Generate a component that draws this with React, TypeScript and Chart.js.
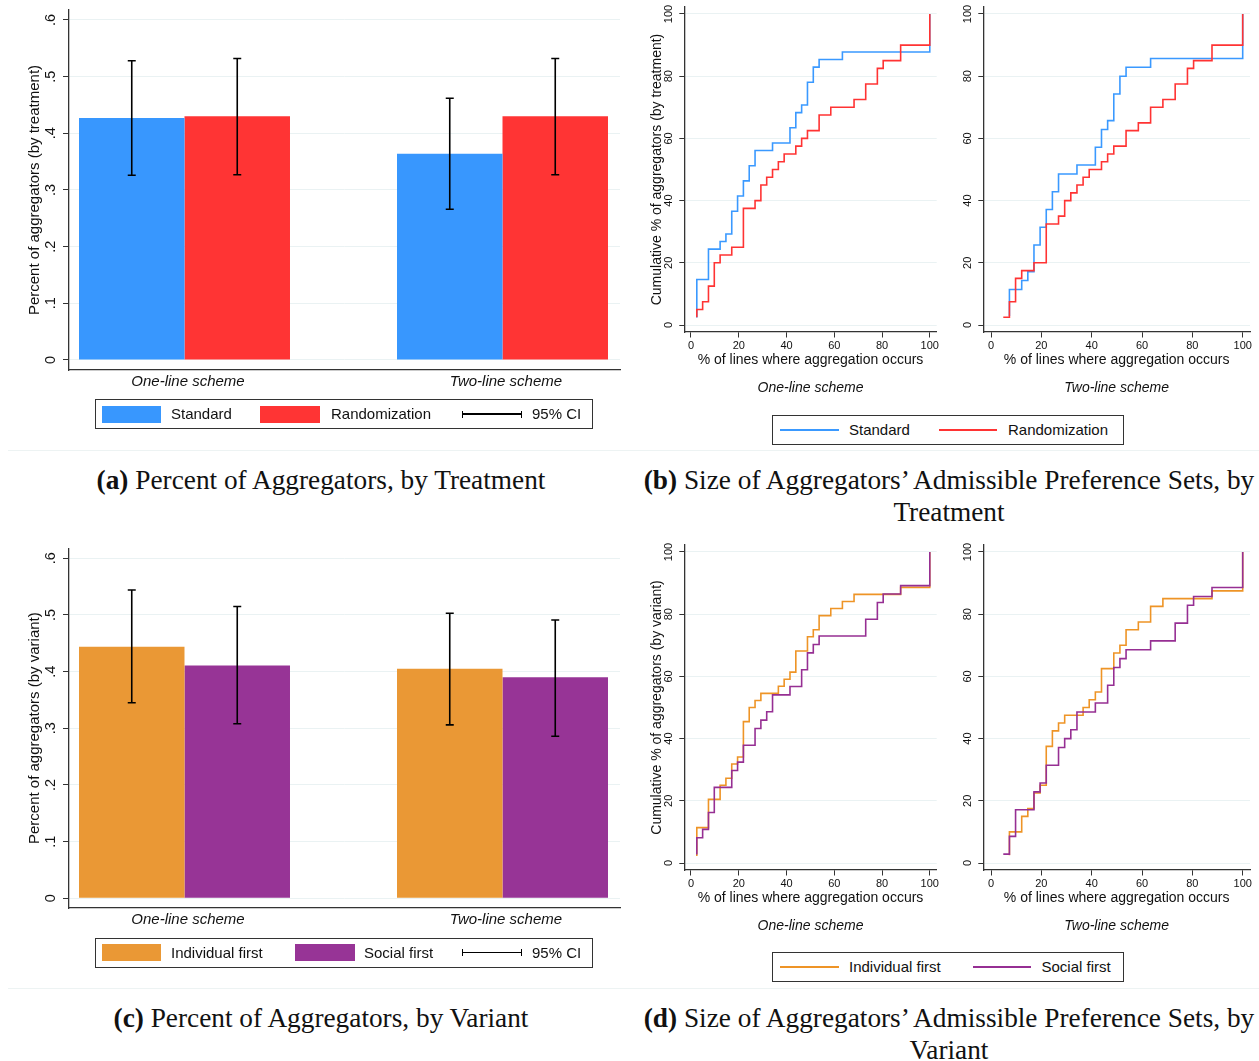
import React, { useEffect, useRef } from 'react';
import { Chart, registerables } from 'chart.js';

Chart.register(...registerables);

// ---------- data ----------
const schemes = ['One-line scheme', 'Two-line scheme'];

const barYTicks = [0, 0.1, 0.2, 0.3, 0.4, 0.5, 0.6];
const barYTickLabels = ['0', '.1', '.2', '.3', '.4', '.5', '.6'];
const cdfTicks = [0, 20, 40, 60, 80, 100];
const cdfTickLabels = ['0', '20', '40', '60', '80', '100'];

// panel (a): share of aggregators, by treatment (one-line, two-line)
const standardShare = [0.427, 0.364];
const standardLow = [0.326, 0.266];
const standardHigh = [0.528, 0.462];
const randomShare = [0.43, 0.43];
const randomLow = [0.327, 0.327];
const randomHigh = [0.532, 0.532];

// panel (c): share of aggregators, by variant
const individualShare = [0.444, 0.405];
const individualLow = [0.345, 0.306];
const individualHigh = [0.544, 0.503];
const socialShare = [0.411, 0.39];
const socialLow = [0.308, 0.286];
const socialHigh = [0.515, 0.491];

// panel (b): cumulative distributions, by treatment
const stdOneX = [2.44, 2.44, 7.32, 12.2, 14.63, 17.07, 19.51, 21.95, 24.39, 26.83, 34.15, 41.46, 43.9, 46.34, 48.78, 51.22, 53.66, 63.41, 100];
const stdOneY = [2.44, 14.63, 24.39, 26.83, 29.27, 36.59, 41.46, 46.34, 51.22, 56.1, 58.54, 63.41, 68.29, 70.73, 78.05, 82.93, 85.37, 87.8, 100];
const rndOneX = [2.44, 2.44, 4.88, 7.32, 9.76, 12.2, 17.07, 21.95, 26.83, 29.27, 31.71, 34.15, 36.59, 39.02, 43.9, 46.34, 48.78, 53.66, 58.54, 68.29, 73.17, 78.05, 80.49, 87.8, 100];
const rndOneY = [2.5, 5, 7.5, 12.5, 20, 22.5, 25, 37.5, 40, 45, 47.5, 50, 52.5, 55, 57.5, 60, 62.5, 67.5, 70, 72.5, 77.5, 82.5, 85, 90, 100];
const stdTwoX = [7.32, 7.32, 12.2, 14.63, 17.07, 19.51, 21.95, 24.39, 26.83, 34.15, 41.46, 43.9, 46.34, 48.78, 51.22, 53.66, 63.41, 100];
const stdTwoY = [2.86, 11.43, 14.29, 17.14, 25.71, 31.43, 37.14, 42.86, 48.57, 51.43, 57.14, 62.86, 65.71, 74.29, 80, 82.86, 85.71, 100];
const rndTwoX = [4.88, 7.32, 9.76, 12.2, 17.07, 21.95, 26.83, 29.27, 31.71, 34.15, 36.59, 39.02, 43.9, 46.34, 48.78, 53.66, 58.54, 63.41, 68.29, 73.17, 78.05, 80.49, 87.8, 100];
const rndTwoY = [2.5, 7.5, 15, 17.5, 20, 32.5, 35, 40, 42.5, 45, 47.5, 50, 52.5, 55, 57.5, 62.5, 65, 70, 72.5, 77.5, 82.5, 85, 90, 100];

// panel (d): cumulative distributions, by variant
const indOneX = [2.44, 2.44, 7.32, 12.2, 14.63, 17.07, 19.51, 21.95, 24.39, 26.83, 29.27, 36.59, 39.02, 41.46, 43.9, 48.78, 51.22, 53.66, 58.54, 63.41, 68.29, 87.8, 100];
const indOneY = [2.27, 11.36, 20.45, 25, 27.27, 31.82, 34.09, 45.45, 50, 52.27, 54.55, 56.82, 59.09, 61.36, 68.18, 72.73, 75, 79.55, 81.82, 84.09, 86.36, 88.64, 100];
const socOneX = [2.44, 2.44, 4.88, 7.32, 9.76, 17.07, 19.51, 21.95, 26.83, 29.27, 31.71, 34.15, 41.46, 46.34, 48.78, 51.22, 53.66, 73.17, 78.05, 80.49, 87.8, 100];
const socOneY = [2.7, 8.11, 10.81, 16.22, 24.32, 29.73, 32.43, 37.84, 43.24, 45.95, 48.65, 54.05, 56.76, 62.16, 67.57, 70.27, 72.97, 78.38, 83.78, 86.49, 89.19, 100];
const indTwoX = [7.32, 7.32, 12.2, 14.63, 17.07, 19.51, 21.95, 24.39, 26.83, 29.27, 36.59, 39.02, 41.46, 43.9, 48.78, 51.22, 53.66, 58.54, 63.41, 68.29, 87.8, 100];
const indTwoY = [2.5, 10, 15, 17.5, 22.5, 25, 37.5, 42.5, 45, 47.5, 50, 52.5, 55, 62.5, 67.5, 70, 75, 77.5, 82.5, 85, 87.5, 100];
const socTwoX = [4.88, 7.32, 9.76, 17.07, 19.51, 21.95, 26.83, 29.27, 31.71, 34.15, 41.46, 46.34, 48.78, 51.22, 53.66, 63.41, 73.17, 78.05, 80.49, 87.8, 100];
const socTwoY = [2.86, 8.57, 17.14, 22.86, 25.71, 31.43, 37.14, 40, 42.86, 48.57, 51.43, 57.14, 62.86, 65.71, 68.57, 71.43, 77.14, 82.86, 85.71, 88.57, 100];

// ---------- style ----------
const SANS = '"Liberation Sans", Arial, Helvetica, sans-serif';
const SERIF = '"Liberation Serif", "Times New Roman", serif';
const TXT = '#111111';
const AXIS = '#333333';
const GRID = '#EAF2F3';
const BLUE = '#3897FE';
const RED = '#FF3434';
const ORANGE = '#EA9835';
const PURPLE = '#973496';
const BLUE_L = '#3A99FF';
const RED_L = '#FF3333';
const ORANGE_L = '#EE9426';
const PURPLE_L = '#962F93';

Chart.defaults.font.family = SANS;

// ---------- plugins ----------
const rotYTicks = {
  id: 'rotYTicks',
  afterDraw(chart: any, _args: any, opts: any) {
    const s = chart.scales.y;
    const ctx = chart.ctx;
    ctx.save();
    ctx.fillStyle = TXT;
    ctx.font = `${opts.size}px ${SANS}`;
    ctx.textAlign = 'center';
    ctx.textBaseline = 'middle';
    (opts.values as number[]).forEach((v, i) => {
      const y = s.getPixelForValue(v);
      ctx.save();
      ctx.translate(chart.chartArea.left - opts.offset, y);
      ctx.rotate(-Math.PI / 2);
      ctx.fillText(opts.labels[i], 0, 0);
      ctx.restore();
    });
    ctx.restore();
  },
};

const errorBars = {
  id: 'errorBars',
  afterDatasetsDraw(chart: any) {
    const ctx = chart.ctx;
    const ys = chart.scales.y;
    chart.data.datasets.forEach((ds: any, i: number) => {
      const meta = chart.getDatasetMeta(i);
      meta.data.forEach((el: any, j: number) => {
        const x = el.x;
        const top = ys.getPixelForValue(ds.ciHigh[j]);
        const bot = ys.getPixelForValue(ds.ciLow[j]);
        ctx.save();
        ctx.strokeStyle = '#000';
        ctx.lineWidth = 1.6;
        ctx.beginPath();
        ctx.moveTo(x, top);
        ctx.lineTo(x, bot);
        ctx.moveTo(x - 4, top);
        ctx.lineTo(x + 4, top);
        ctx.moveTo(x - 4, bot);
        ctx.lineTo(x + 4, bot);
        ctx.stroke();
        ctx.restore();
      });
    });
  },
};

type BarSeries = { label: string; color: string; values: number[]; low: number[]; high: number[] };

function makeBarConfig(yTitle: string, series: BarSeries[], padTop: number, padBottom: number, yMin: number, yMax: number): any {
  return {
    type: 'bar',
    data: {
      datasets: series.map((s) => ({
        label: s.label,
        data: s.values.map((v, i) => ({ x: i, y: v })),
        backgroundColor: s.color,
        borderWidth: 0,
        categoryPercentage: 0.6635,
        barPercentage: 1,
        ciLow: s.low,
        ciHigh: s.high,
      })),
    },
    options: {
      responsive: false,
      animation: false,
      layout: { padding: { top: padTop, right: 20, bottom: padBottom, left: 0 } },
      plugins: {
        legend: { display: false },
        tooltip: { enabled: false },
        rotYTicks: { values: barYTicks, labels: barYTickLabels, offset: 18.5, size: 14.5 },
      },
      scales: {
        x: {
          type: 'linear',
          min: -0.3632,
          max: 1.3695,
          offset: false,
          grid: { display: false, drawTicks: false },
          border: { display: true, color: AXIS, width: 1.3 },
          afterBuildTicks: (s: any) => {
            s.ticks = schemes.map((_, i) => ({ value: i }));
          },
          afterFit: (s: any) => {
            s.height = 28;
          },
          ticks: {
            callback: (_v: any, i: number) => schemes[i],
            font: { size: 15, style: 'italic' },
            color: TXT,
            padding: 3,
            labelOffset: 3.5,
            maxRotation: 0,
            autoSkip: false,
          },
        },
        y: {
          type: 'linear',
          min: yMin,
          max: yMax,
          afterBuildTicks: (s: any) => {
            s.ticks = barYTicks.map((v) => ({ value: v }));
          },
          afterFit: (s: any) => {
            s.width = 69;
          },
          ticks: { display: false },
          grid: { color: GRID, tickColor: AXIS, tickLength: 6, lineWidth: 1 },
          border: { color: AXIS, width: 1.3 },
          title: {
            display: true,
            text: yTitle,
            font: { size: 15 },
            color: TXT,
            padding: { top: 25.5, bottom: 0 },
          },
        },
      },
    },
    plugins: [rotYTicks, errorBars],
  };
}

type CdfSeries = { label: string; color: string; xs: number[]; ys: number[]; order: number };

function makeCdfConfig(series: CdfSeries[], scheme: string, yTitle: string | null, xMin: number, xMax: number, padRight: number, yWidth: number): any {
  return {
    type: 'scatter',
    data: {
      datasets: series.map((s) => ({
        label: s.label,
        data: s.xs.map((x, i) => ({ x, y: s.ys[i] })),
        showLine: true,
        stepped: 'before',
        pointRadius: 0,
        borderColor: s.color,
        borderWidth: 1.6,
        fill: false,
        order: s.order,
      })),
    },
    options: {
      responsive: false,
      animation: false,
      layout: { padding: { top: 7, right: padRight, bottom: 0, left: 0 } },
      plugins: {
        legend: { display: false },
        tooltip: { enabled: false },
        title: {
          display: true,
          text: scheme,
          position: 'bottom',
          fullSize: false,
          font: { size: 14, style: 'italic', weight: 'normal' },
          color: TXT,
          padding: { top: 10.2, bottom: 0 },
        },
        rotYTicks: { values: cdfTicks, labels: cdfTickLabels, offset: 15, size: 11 },
      },
      scales: {
        x: {
          type: 'linear',
          min: xMin,
          max: xMax,
          afterBuildTicks: (s: any) => {
            s.ticks = cdfTicks.map((v) => ({ value: v }));
          },
          afterFit: (s: any) => {
            s.height = 38;
          },
          ticks: {
            callback: (_v: any, i: number) => cdfTickLabels[i],
            font: { size: 11 },
            color: TXT,
            padding: 2,
            maxRotation: 0,
            autoSkip: false,
          },
          grid: { drawOnChartArea: false, color: AXIS, tickColor: AXIS, tickLength: 5.5 },
          border: { color: AXIS, width: 1.3 },
          title: {
            display: true,
            text: '% of lines where aggregation occurs',
            font: { size: 14 },
            color: TXT,
            padding: { top: 0, bottom: 1.8 },
          },
        },
        y: {
          type: 'linear',
          min: -2.25,
          max: 102.25,
          afterBuildTicks: (s: any) => {
            s.ticks = cdfTicks.map((v) => ({ value: v }));
          },
          afterFit: (s: any) => {
            s.width = yWidth;
          },
          ticks: { display: false },
          grid: { color: GRID, tickColor: AXIS, tickLength: 5, lineWidth: 1 },
          border: { color: AXIS, width: 1.3 },
          title: {
            display: !!yTitle,
            text: yTitle || '',
            font: { size: 14 },
            color: TXT,
            padding: { top: 8.3, bottom: 0 },
          },
        },
      },
    },
    plugins: [rotYTicks],
  };
}

// ---------- components ----------
function ChartCanvas({ left, top, width, height, make }: { left: number; top: number; width: number; height: number; make: () => any }) {
  const ref = useRef<HTMLCanvasElement>(null);
  useEffect(() => {
    const chart = new Chart(ref.current as HTMLCanvasElement, make());
    return () => chart.destroy();
  }, []);
  return <canvas ref={ref} width={width} height={height} style={{ position: 'absolute', left, top, width, height }} />;
}

function Label({ x, cy, text, size = 15 }: { x: number; cy: number; text: string; size?: number }) {
  const lh = Math.round(size * 1.2);
  return (
    <div style={{ position: 'absolute', left: x, top: cy - lh / 2, lineHeight: `${lh}px`, fontSize: size, fontFamily: SANS, color: TXT, whiteSpace: 'nowrap' }}>
      {text}
    </div>
  );
}

function Rect({ l, t, w, h, bg, border }: { l: number; t: number; w: number; h: number; bg?: string; border?: string }) {
  return <div style={{ position: 'absolute', left: l, top: t, width: w, height: h, background: bg, border, boxSizing: 'border-box' }} />;
}

function CiSymbol({ l, cy }: { l: number; cy: number }) {
  return (
    <div style={{ position: 'absolute', left: l, top: cy - 3.5, width: 60, height: 7, borderLeft: '1.3px solid #000', borderRight: '1.3px solid #000', boxSizing: 'border-box' }}>
      <div style={{ position: 'absolute', left: 0, right: 0, top: 2.8, height: 1.3, background: '#000' }} />
    </div>
  );
}

function BarLegend({ top, a, b, bSwatch, bText }: { top: number; a: [string, string]; b: [string, string]; bSwatch: number; bText: number }) {
  const cy = top + 15;
  return (
    <>
      <Rect l={95} t={top} w={498} h={30} border={`1.2px solid ${AXIS}`} />
      <Rect l={102} t={cy - 8.5} w={59} h={17} bg={a[1]} />
      <Label x={171} cy={cy} text={a[0]} />
      <Rect l={bSwatch} t={cy - 8.5} w={59.5} h={17} bg={b[1]} />
      <Label x={bText} cy={cy} text={b[0]} />
      <CiSymbol l={462} cy={cy} />
      <Label x={532} cy={cy} text="95% CI" />
    </>
  );
}

function LineLegend({ top, a, b, bx, btx }: { top: number; a: [string, string]; b: [string, string]; bx: number; btx: number }) {
  const cy = top + 15;
  return (
    <>
      <Rect l={772} t={top} w={352} h={30} border={`1.2px solid ${AXIS}`} />
      <Rect l={780} t={cy - 0.8} w={59} h={1.6} bg={a[1]} />
      <Label x={849} cy={cy} text={a[0]} />
      <Rect l={bx} t={cy - 0.8} w={58} h={1.6} bg={b[1]} />
      <Label x={btx} cy={cy} text={b[0]} />
    </>
  );
}

function Caption({ cx, cy, tag, lines }: { cx: number; cy: number; tag: string; lines: string[] }) {
  const lh = 32;
  return (
    <div style={{ position: 'absolute', left: cx - 400, width: 800, top: cy - lh / 2, lineHeight: `${lh}px`, fontSize: 27.3, fontFamily: SERIF, color: TXT, textAlign: 'center', whiteSpace: 'nowrap' }}>
      <span style={{ fontWeight: 'bold' }}>{tag}</span> {lines[0]}
      {lines.slice(1).map((l, i) => (
        <React.Fragment key={i}>
          <br />
          {l}
        </React.Fragment>
      ))}
    </div>
  );
}

export default function App() {
  return (
    <div style={{ position: 'absolute', left: 0, top: 0, width: 1259, height: 1061, background: '#fff', overflow: 'hidden' }}>
      {/* (a) */}
      <ChartCanvas
        left={0}
        top={0}
        width={640}
        height={400}
        make={() =>
          makeBarConfig(
            'Percent of aggregators (by treatment)',
            [
              { label: 'Standard', color: BLUE, values: standardShare, low: standardLow, high: standardHigh },
              { label: 'Randomization', color: RED, values: randomShare, low: randomLow, high: randomHigh },
            ],
            10,
            2,
            -0.01765,
            0.6176
          )
        }
      />
      <BarLegend top={399} a={['Standard', BLUE]} b={['Randomization', RED]} bSwatch={260} bText={331} />

      {/* (b) */}
      <ChartCanvas
        left={640}
        top={0}
        width={310}
        height={397}
        make={() =>
          makeCdfConfig(
            [
              { label: 'Standard', color: BLUE_L, xs: stdOneX, ys: stdOneY, order: 1 },
              { label: 'Randomization', color: RED_L, xs: rndOneX, ys: rndOneY, order: 0 },
            ],
            schemes[0],
            'Cumulative % of aggregators (by treatment)',
            -2.8,
            102.9,
            13.3,
            44.3
          )
        }
      />
      <ChartCanvas
        left={950}
        top={0}
        width={309}
        height={397}
        make={() =>
          makeCdfConfig(
            [
              { label: 'Standard', color: BLUE_L, xs: stdTwoX, ys: stdTwoY, order: 1 },
              { label: 'Randomization', color: RED_L, xs: rndTwoX, ys: rndTwoY, order: 0 },
            ],
            schemes[1],
            null,
            -3.06,
            102.9,
            9,
            33.3
          )
        }
      />
      <LineLegend top={415} a={['Standard', BLUE_L]} b={['Randomization', RED_L]} bx={939} btx={1008} />

      <Rect l={8} t={450} w={1251} h={1} bg="#EDF3F3" />
      <Caption cx={321} cy={480} tag="(a)" lines={['Percent of Aggregators, by Treatment']} />
      <Caption cx={949} cy={480} tag="(b)" lines={['Size of Aggregators\u2019 Admissible Preference Sets, by', 'Treatment']} />

      {/* (c) */}
      <ChartCanvas
        left={0}
        top={540}
        width={640}
        height={400}
        make={() =>
          makeBarConfig(
            'Percent of aggregators (by variant)',
            [
              { label: 'Individual first', color: ORANGE, values: individualShare, low: individualLow, high: individualHigh },
              { label: 'Social first', color: PURPLE, values: socialShare, low: socialLow, high: socialHigh },
            ],
            8.3,
            4,
            -0.0171,
            0.6176
          )
        }
      />
      <BarLegend top={937.5} a={['Individual first', ORANGE]} b={['Social first', PURPLE]} bSwatch={295} bText={364} />

      {/* (d) */}
      <ChartCanvas
        left={640}
        top={538}
        width={310}
        height={397}
        make={() =>
          makeCdfConfig(
            [
              { label: 'Individual first', color: ORANGE_L, xs: indOneX, ys: indOneY, order: 1 },
              { label: 'Social first', color: PURPLE_L, xs: socOneX, ys: socOneY, order: 0 },
            ],
            schemes[0],
            'Cumulative % of aggregators (by variant)',
            -2.8,
            102.9,
            13.3,
            44.3
          )
        }
      />
      <ChartCanvas
        left={950}
        top={538}
        width={309}
        height={397}
        make={() =>
          makeCdfConfig(
            [
              { label: 'Individual first', color: ORANGE_L, xs: indTwoX, ys: indTwoY, order: 1 },
              { label: 'Social first', color: PURPLE_L, xs: socTwoX, ys: socTwoY, order: 0 },
            ],
            schemes[1],
            null,
            -3.06,
            102.9,
            9,
            33.3
          )
        }
      />
      <LineLegend top={952} a={['Individual first', ORANGE_L]} b={['Social first', PURPLE_L]} bx={973} btx={1041.5} />

      <Rect l={8} t={988} w={1251} h={1} bg="#EDF3F3" />
      <Caption cx={321} cy={1018} tag="(c)" lines={['Percent of Aggregators, by Variant']} />
      <Caption cx={949} cy={1018} tag="(d)" lines={['Size of Aggregators\u2019 Admissible Preference Sets, by', 'Variant']} />
    </div>
  );
}
